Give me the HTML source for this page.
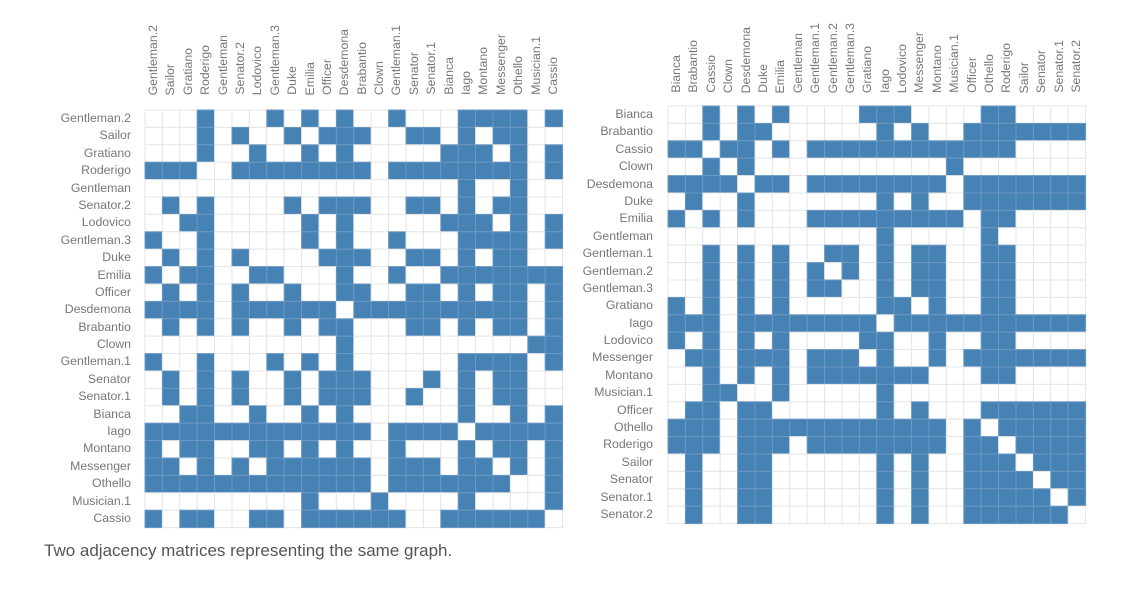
<!DOCTYPE html>
<html><head><meta charset="utf-8"><style>
body{margin:0;background:#fff;width:1138px;height:591px;position:relative;overflow:hidden;font-family:"Liberation Sans",sans-serif;}
.rl{position:absolute;text-align:right;font-size:12.3px;color:#777;}
.rl div{height:17.4px;line-height:17.4px;white-space:nowrap;}
.cl{position:absolute;display:flex;align-items:flex-end;font-size:12.3px;color:#777;}
.cl span{writing-mode:vertical-rl;transform:rotate(180deg);width:17.4px;line-height:17.4px;white-space:nowrap;text-align:left;}
svg{position:absolute;left:0;top:0;}
.cap{position:absolute;left:44px;top:541px;font-size:17px;color:#555;}
</style></head><body>
<div class="rl" style="left:20px;top:110px;width:111px;">
<div>Gentleman.2</div><div>Sailor</div><div>Gratiano</div><div>Roderigo</div><div>Gentleman</div><div>Senator.2</div><div>Lodovico</div><div>Gentleman.3</div><div>Duke</div><div>Emilia</div><div>Officer</div><div>Desdemona</div><div>Brabantio</div><div>Clown</div><div>Gentleman.1</div><div>Senator</div><div>Senator.1</div><div>Bianca</div><div>Iago</div><div>Montano</div><div>Messenger</div><div>Othello</div><div>Musician.1</div><div>Cassio</div>
</div>
<div class="cl" style="left:145px;top:0;height:95px;">
<span>Gentleman.2</span><span>Sailor</span><span>Gratiano</span><span>Roderigo</span><span>Gentleman</span><span>Senator.2</span><span>Lodovico</span><span>Gentleman.3</span><span>Duke</span><span>Emilia</span><span>Officer</span><span>Desdemona</span><span>Brabantio</span><span>Clown</span><span>Gentleman.1</span><span>Senator</span><span>Senator.1</span><span>Bianca</span><span>Iago</span><span>Montano</span><span>Messenger</span><span>Othello</span><span>Musician.1</span><span>Cassio</span>
</div>
<div class="rl" style="left:540px;top:106px;width:113px;">
<div>Bianca</div><div>Brabantio</div><div>Cassio</div><div>Clown</div><div>Desdemona</div><div>Duke</div><div>Emilia</div><div>Gentleman</div><div>Gentleman.1</div><div>Gentleman.2</div><div>Gentleman.3</div><div>Gratiano</div><div>Iago</div><div>Lodovico</div><div>Messenger</div><div>Montano</div><div>Musician.1</div><div>Officer</div><div>Othello</div><div>Roderigo</div><div>Sailor</div><div>Senator</div><div>Senator.1</div><div>Senator.2</div>
</div>
<div class="cl" style="left:668px;top:0;height:93px;">
<span>Bianca</span><span>Brabantio</span><span>Cassio</span><span>Clown</span><span>Desdemona</span><span>Duke</span><span>Emilia</span><span>Gentleman</span><span>Gentleman.1</span><span>Gentleman.2</span><span>Gentleman.3</span><span>Gratiano</span><span>Iago</span><span>Lodovico</span><span>Messenger</span><span>Montano</span><span>Musician.1</span><span>Officer</span><span>Othello</span><span>Roderigo</span><span>Sailor</span><span>Senator</span><span>Senator.1</span><span>Senator.2</span>
</div>
<svg id="s" width="1138" height="591"></svg>
<div class="cap">Two adjacency matrices representing the same graph.</div>
<script>
var A=[[2,4,6,11,12,13,18,19],[2,4,5,12,14,17,18,19,20,21,22,23],[0,1,3,4,6,8,9,10,11,12,13,14,15,16,17,18,19],[2,4,16],
[0,1,2,3,5,6,8,9,10,11,12,13,14,15,17,18,19,20,21,22,23],[1,4,12,14,17,18,19,20,21,22,23],[0,2,4,8,9,10,11,12,13,14,15,16,18,19],[12,18],
[2,4,6,9,10,12,14,15,18,19],[2,4,6,8,10,12,14,15,18,19],[2,4,6,8,9,12,14,15,18,19],[0,2,4,6,12,13,15,18,19],
[0,1,2,4,5,6,7,8,9,10,11,13,14,15,16,17,18,19,20,21,22,23],[0,2,4,6,11,12,15,18,19],[1,2,4,5,6,8,9,10,12,15,17,18,19,20,21,22,23],
[2,4,6,8,9,10,11,12,13,14,18,19],[2,3,6,12],[1,2,4,5,12,14,18,19,20,21,22,23],[0,1,2,4,5,6,7,8,9,10,11,12,13,14,15,17,19,20,21,22,23],
[0,1,2,4,5,6,8,9,10,11,12,13,14,15,17,18,20,21,22,23],[1,4,5,12,14,17,18,19,21,22,23],[1,4,5,12,14,17,18,19,20,22,23],[1,4,5,12,14,17,18,19,20,21,23],[1,4,5,12,14,17,18,19,20,21,22]];
var N=24,M=[];for(var i=0;i<N;i++){M.push([]);for(var j=0;j<N;j++)M[i].push(0);}
A.forEach(function(r,i){r.forEach(function(j){M[i][j]=1;M[j][i]=1;});});
var L=[9,20,11,19,7,23,13,10,5,6,17,4,1,3,8,21,22,0,12,15,14,18,16,2];
var h='',c=17.4;
function draw(x0,y0,ord){for(var i=0;i<N;i++)for(var j=0;j<N;j++){var f=M[ord[i]][ord[j]];
h+='<rect x="'+(x0+j*c).toFixed(1)+'" y="'+(y0+i*c).toFixed(1)+'" width="'+c+'" height="'+c+'" fill="'+(f?'#4682b4':'#fff')+'" stroke="'+(f?'#6a98c2':'#e6e6e6')+'" stroke-width="1"/>';}}
var I=[];for(var k=0;k<N;k++)I.push(k);
draw(145,110,L);draw(668,106,I);
document.getElementById('s').innerHTML=h;
</script>
</body></html>
